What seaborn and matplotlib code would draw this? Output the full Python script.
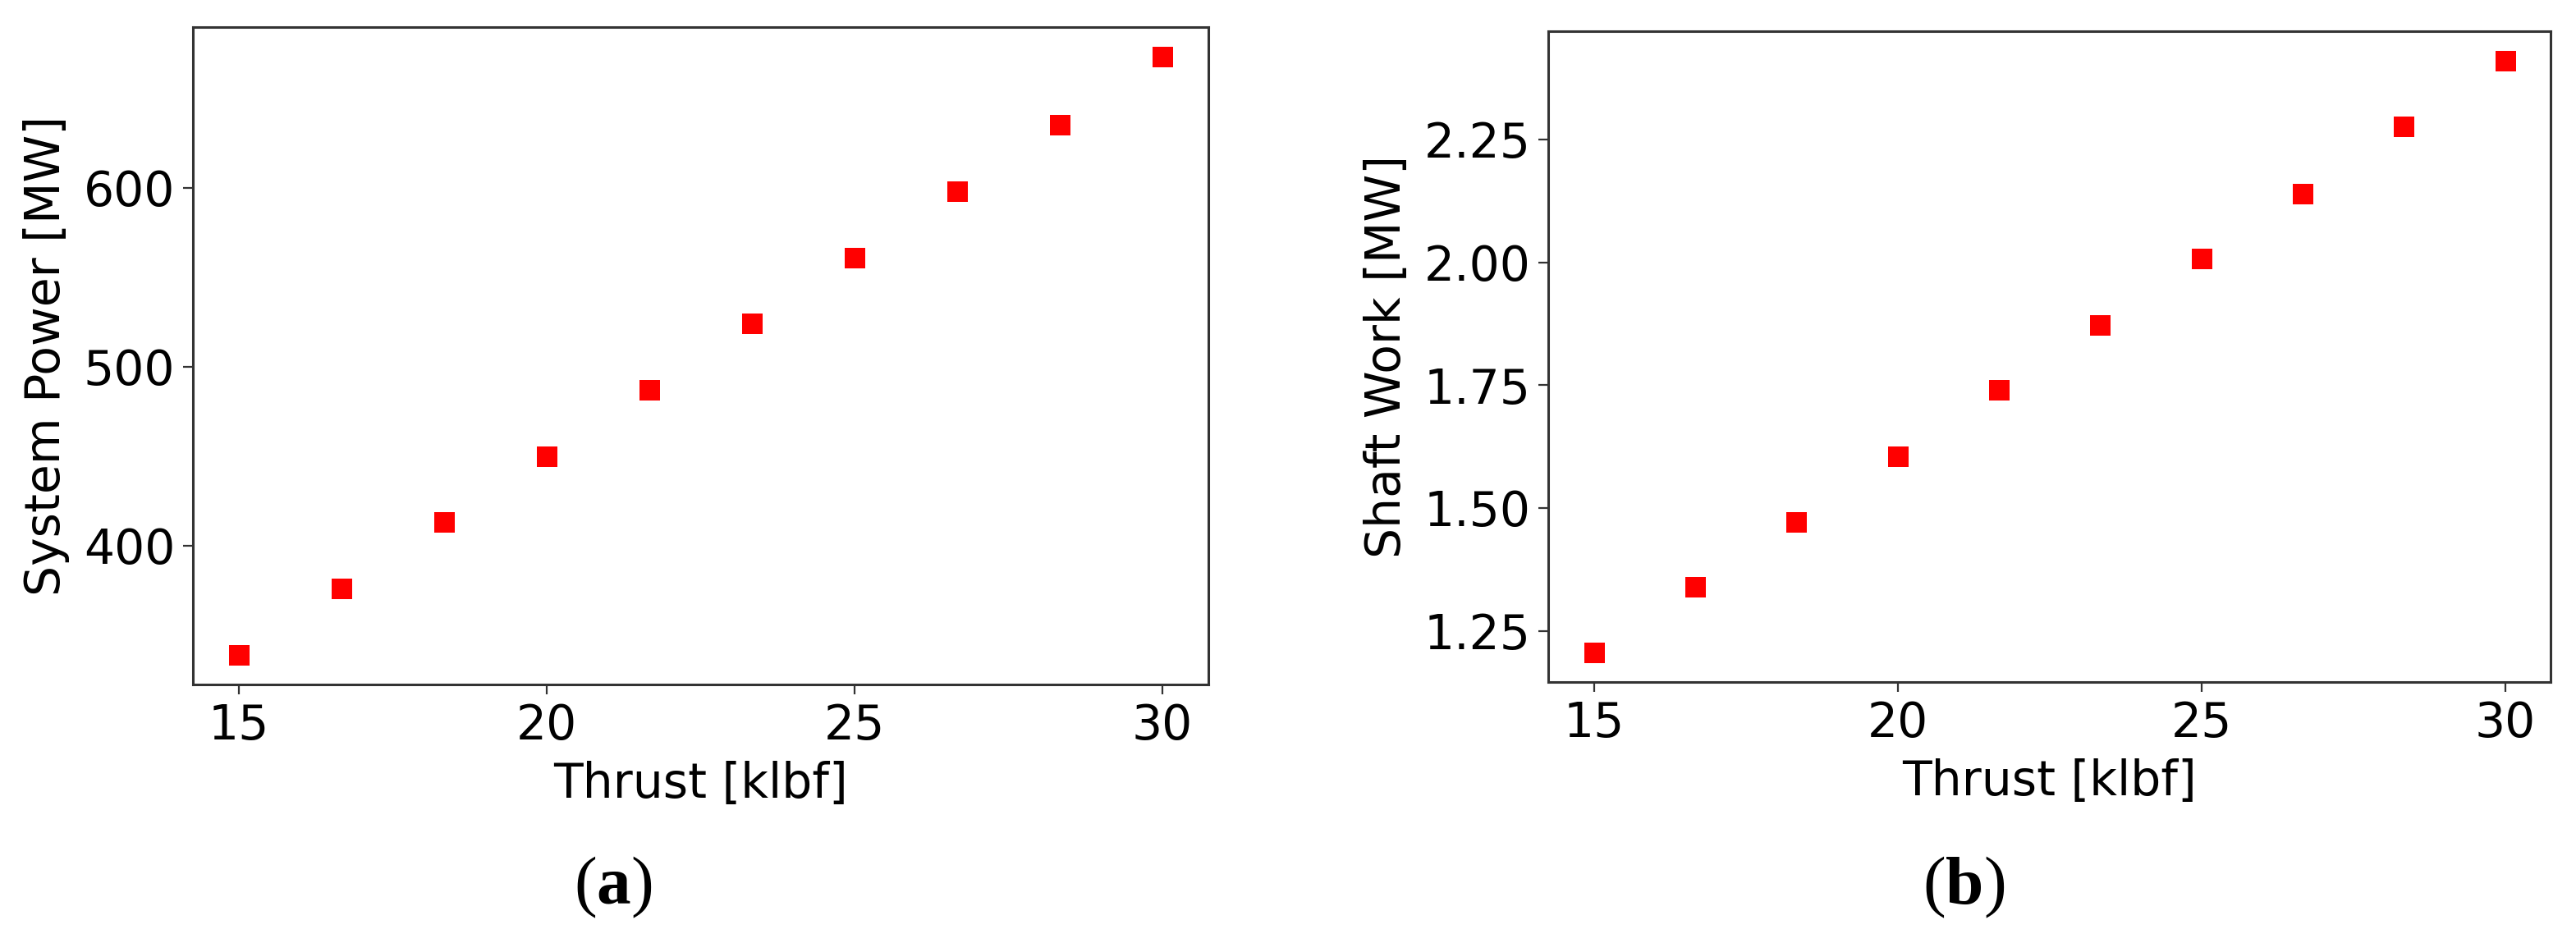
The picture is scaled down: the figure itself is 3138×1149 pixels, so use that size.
import matplotlib
matplotlib.use("Agg")
import matplotlib.pyplot as plt
import seaborn as sns
import pandas as pd

# Data
thrust_klbf = [15.0, 16.67, 18.33, 20.0, 21.67, 23.33, 25.0, 26.67, 28.33, 30.0]
system_power_mw = [339, 376, 413, 450, 487, 524, 561, 598, 635, 673]
shaft_work_mw = [1.206, 1.339, 1.472, 1.605, 1.740, 1.873, 2.007, 2.140, 2.277, 2.410]

x_label = "Thrust [klbf]"
y_label_a = "System Power [MW]"
y_label_b = "Shaft Work [MW]"
panel_labels = ["(a)", "(b)"]

df = pd.DataFrame({"thrust": thrust_klbf,
                   "power": system_power_mw,
                   "shaft": shaft_work_mw})

sns.set_style("ticks")
plt.rcParams["font.family"] = ["DejaVu Sans"]
plt.rcParams["text.color"] = "black"
plt.rcParams["axes.labelcolor"] = "black"
plt.rcParams["xtick.color"] = "black"
plt.rcParams["ytick.color"] = "black"
plt.rcParams["mathtext.fontset"] = "custom"
plt.rcParams["mathtext.rm"] = "Liberation Serif"
plt.rcParams["mathtext.bf"] = "Liberation Serif:bold"

W, H, DPI = 3138, 1149, 200
fig = plt.figure(figsize=(W / DPI, H / DPI), dpi=DPI)
ax_a = fig.add_axes([235 / W, 1 - 834 / H, 1237 / W, 801 / H])
ax_b = fig.add_axes([1886 / W, 1 - 831 / H, 1221 / W, 793 / H])

fs = 21
for ax, ycol, ylab in [(ax_a, "power", y_label_a), (ax_b, "shaft", y_label_b)]:
    sns.scatterplot(data=df, x="thrust", y=ycol, ax=ax, marker="s",
                    color="#ff0000", s=81, linewidth=0, legend=False)
    ax.set_xlabel(x_label, fontsize=fs, labelpad=5, color="black")
    ax.set_ylabel(ylab, fontsize=fs, labelpad=6, color="black")
    ax.tick_params(axis="both", labelsize=fs, length=4.3, width=0.8,
                   color="#333333", labelcolor="black", direction="out", pad=3.5)
    ax.set_xticks([15, 20, 25, 30])
    for sp in ax.spines.values():
        sp.set_visible(True)
        sp.set_linewidth(1.1)
        sp.set_color("#333333")

ax_b.set_yticks([1.25, 1.50, 1.75, 2.00, 2.25])
ax_b.set_yticklabels(["1.25", "1.50", "1.75", "2.00", "2.25"])

fig.text(747 / W, 1 - 1081 / H, r"($\mathbf{a}$)", ha="center", va="center",
         fontsize=30, family="Liberation Serif", color="black")
fig.text(2392 / W, 1 - 1081 / H, r"($\mathbf{b}$)", ha="center", va="center",
         fontsize=30, family="Liberation Serif", color="black")

fig.savefig("out.png", dpi=DPI, facecolor="white")
